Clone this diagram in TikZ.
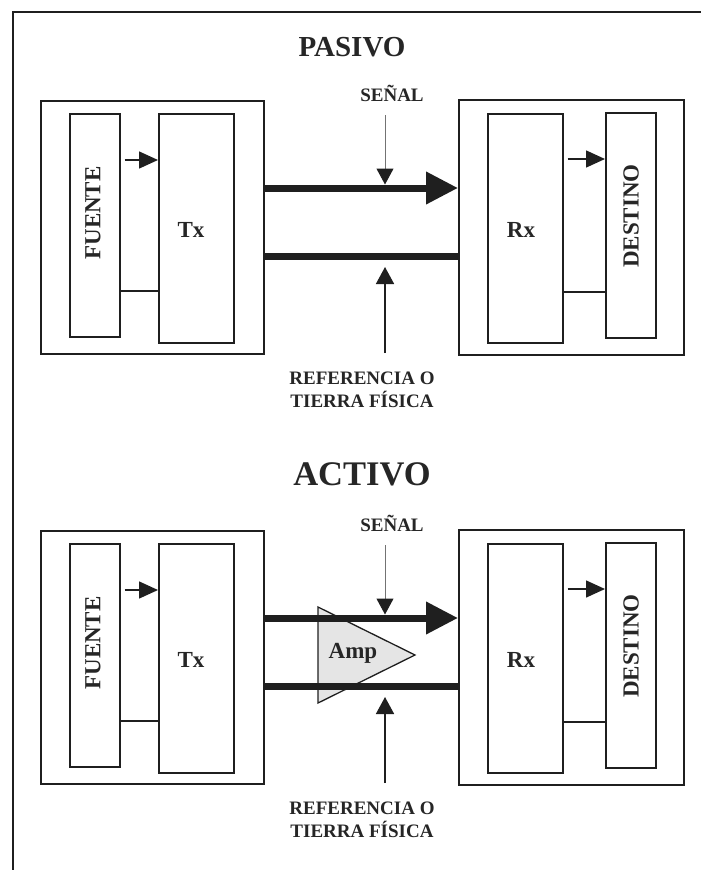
\documentclass[tikz,border=0pt]{standalone}
\usepackage{fontspec}
\setmainfont{Liberation Serif}
\usetikzlibrary{arrows.meta,calc}
\definecolor{ink}{gray}{0.12}
\definecolor{txt}{gray}{0.15}
\definecolor{ampfill}{gray}{0.9}
\definecolor{thin}{gray}{0.45}
\begin{document}
\begin{tikzpicture}[x=1pt,y=-1pt,
  blk/.style={draw=ink, line width=1.5pt, rectangle, inner sep=0pt, anchor=north west},
  lbl/.style={text=txt, font=\fontsize{23}{26}\selectfont\bfseries, inner sep=0pt},
  small/.style={text=txt, font=\fontsize{19}{23}\selectfont\bfseries, inner sep=0pt, align=center},
  smarrow/.style={draw=ink, line width=1.5pt, -{Triangle[length=19pt,width=17pt]}},
  link/.style={draw=ink, line width=1.5pt},
  sigline/.style={draw=ink, line width=7pt, -{Triangle[length=32pt,width=31pt]}},
  gndline/.style={draw=ink, line width=7pt},
  senarrow/.style={draw=thin, line width=1pt, -{Triangle[length=16pt,width=17pt,color=ink]}},
  refarrow/.style={draw=ink, line width=1.6pt, -{Triangle[length=17pt,width=18pt]}},
]
\useasboundingbox (0,0) rectangle (701,870);
\fill[white] (0,0) rectangle (701,870);
% outer frame (top and left only)
\draw[ink, line width=1.5pt] (13,870) -- (13,12) -- (701,12);

\node[text=txt, font=\fontsize{29}{32}\selectfont\bfseries, inner sep=0pt] (tpas) at (352,47) {PASIVO};
\node[text=txt, font=\fontsize{34.5}{38}\selectfont\bfseries, inner sep=0pt] (tact) at (362,474) {ACTIVO};

\foreach \pre/\dy in {p/0, a/430}{
\begin{scope}[shift={(0,\dy)}, name prefix=\pre-]
  % transmitter side
  \node[blk, minimum width=223pt, minimum height=253pt] (L) at (40,100) {};
  \node[blk, minimum width=50pt, minimum height=223pt] (F) at (69,113) {};
  \node[lbl, rotate=90] (Ft) at (93,213) {FUENTE};
  \node[blk, minimum width=75pt, minimum height=229pt] (T) at (158,113) {};
  \node[lbl] (Tt) at (191,230) {Tx};
  \draw[smarrow] ($(F.east|-0,160)+(4,0)$) -- (T.west|-0,160);
  \draw[link] (F.east|-0,291) -- (T.west|-0,291);
  % receiver side
  \node[blk, minimum width=225pt, minimum height=255pt] (R) at (458,99) {};
  \node[blk, minimum width=75pt, minimum height=229pt] (X) at (487,113) {};
  \node[lbl] (Xt) at (521,230) {Rx};
  \node[blk, minimum width=50pt, minimum height=225pt] (D) at (605,112) {};
  \node[lbl, rotate=90] (Dt) at (631,216) {DESTINO};
  \draw[smarrow] ($(X.east|-0,159)+(4,0)$) -- (D.west|-0,159);
  \draw[link] (X.east|-0,292) -- (D.west|-0,292);
  % labels
  \node[small] (sen) at (392,93) {SEÑAL};
  \node[small] (ref) at (362,390) {REFERENCIA O\\TIERRA FÍSICA};
  \coordinate (s1) at (385,115);
  \coordinate (s2) at (385,184.5);
  \coordinate (r1) at (385,353);
  \coordinate (r2) at (385,267);
\end{scope}
}
% amplifier (active only)
\filldraw[draw=ink, fill=ampfill, line width=1.3pt, line join=miter] (318,607) -- (318,703) -- (415,655) -- cycle;
\node[lbl] (amp) at (353,653) {Amp};

\foreach \pre in {p,a}{
  \draw[sigline] (\pre-L.east|-\pre-s2) ++(0,3.5) coordinate (\pre-sg) -- (\pre-R.west|-\pre-sg);
  \draw[gndline] ($(\pre-L.east|-\pre-s2)+(0,71.5)$) coordinate (\pre-gd) -- (\pre-R.west|-\pre-gd);
  \draw[senarrow] (\pre-s1) -- (\pre-s2);
  \draw[refarrow] (\pre-r1) -- (\pre-r2);
}
\end{tikzpicture}
\end{document}
